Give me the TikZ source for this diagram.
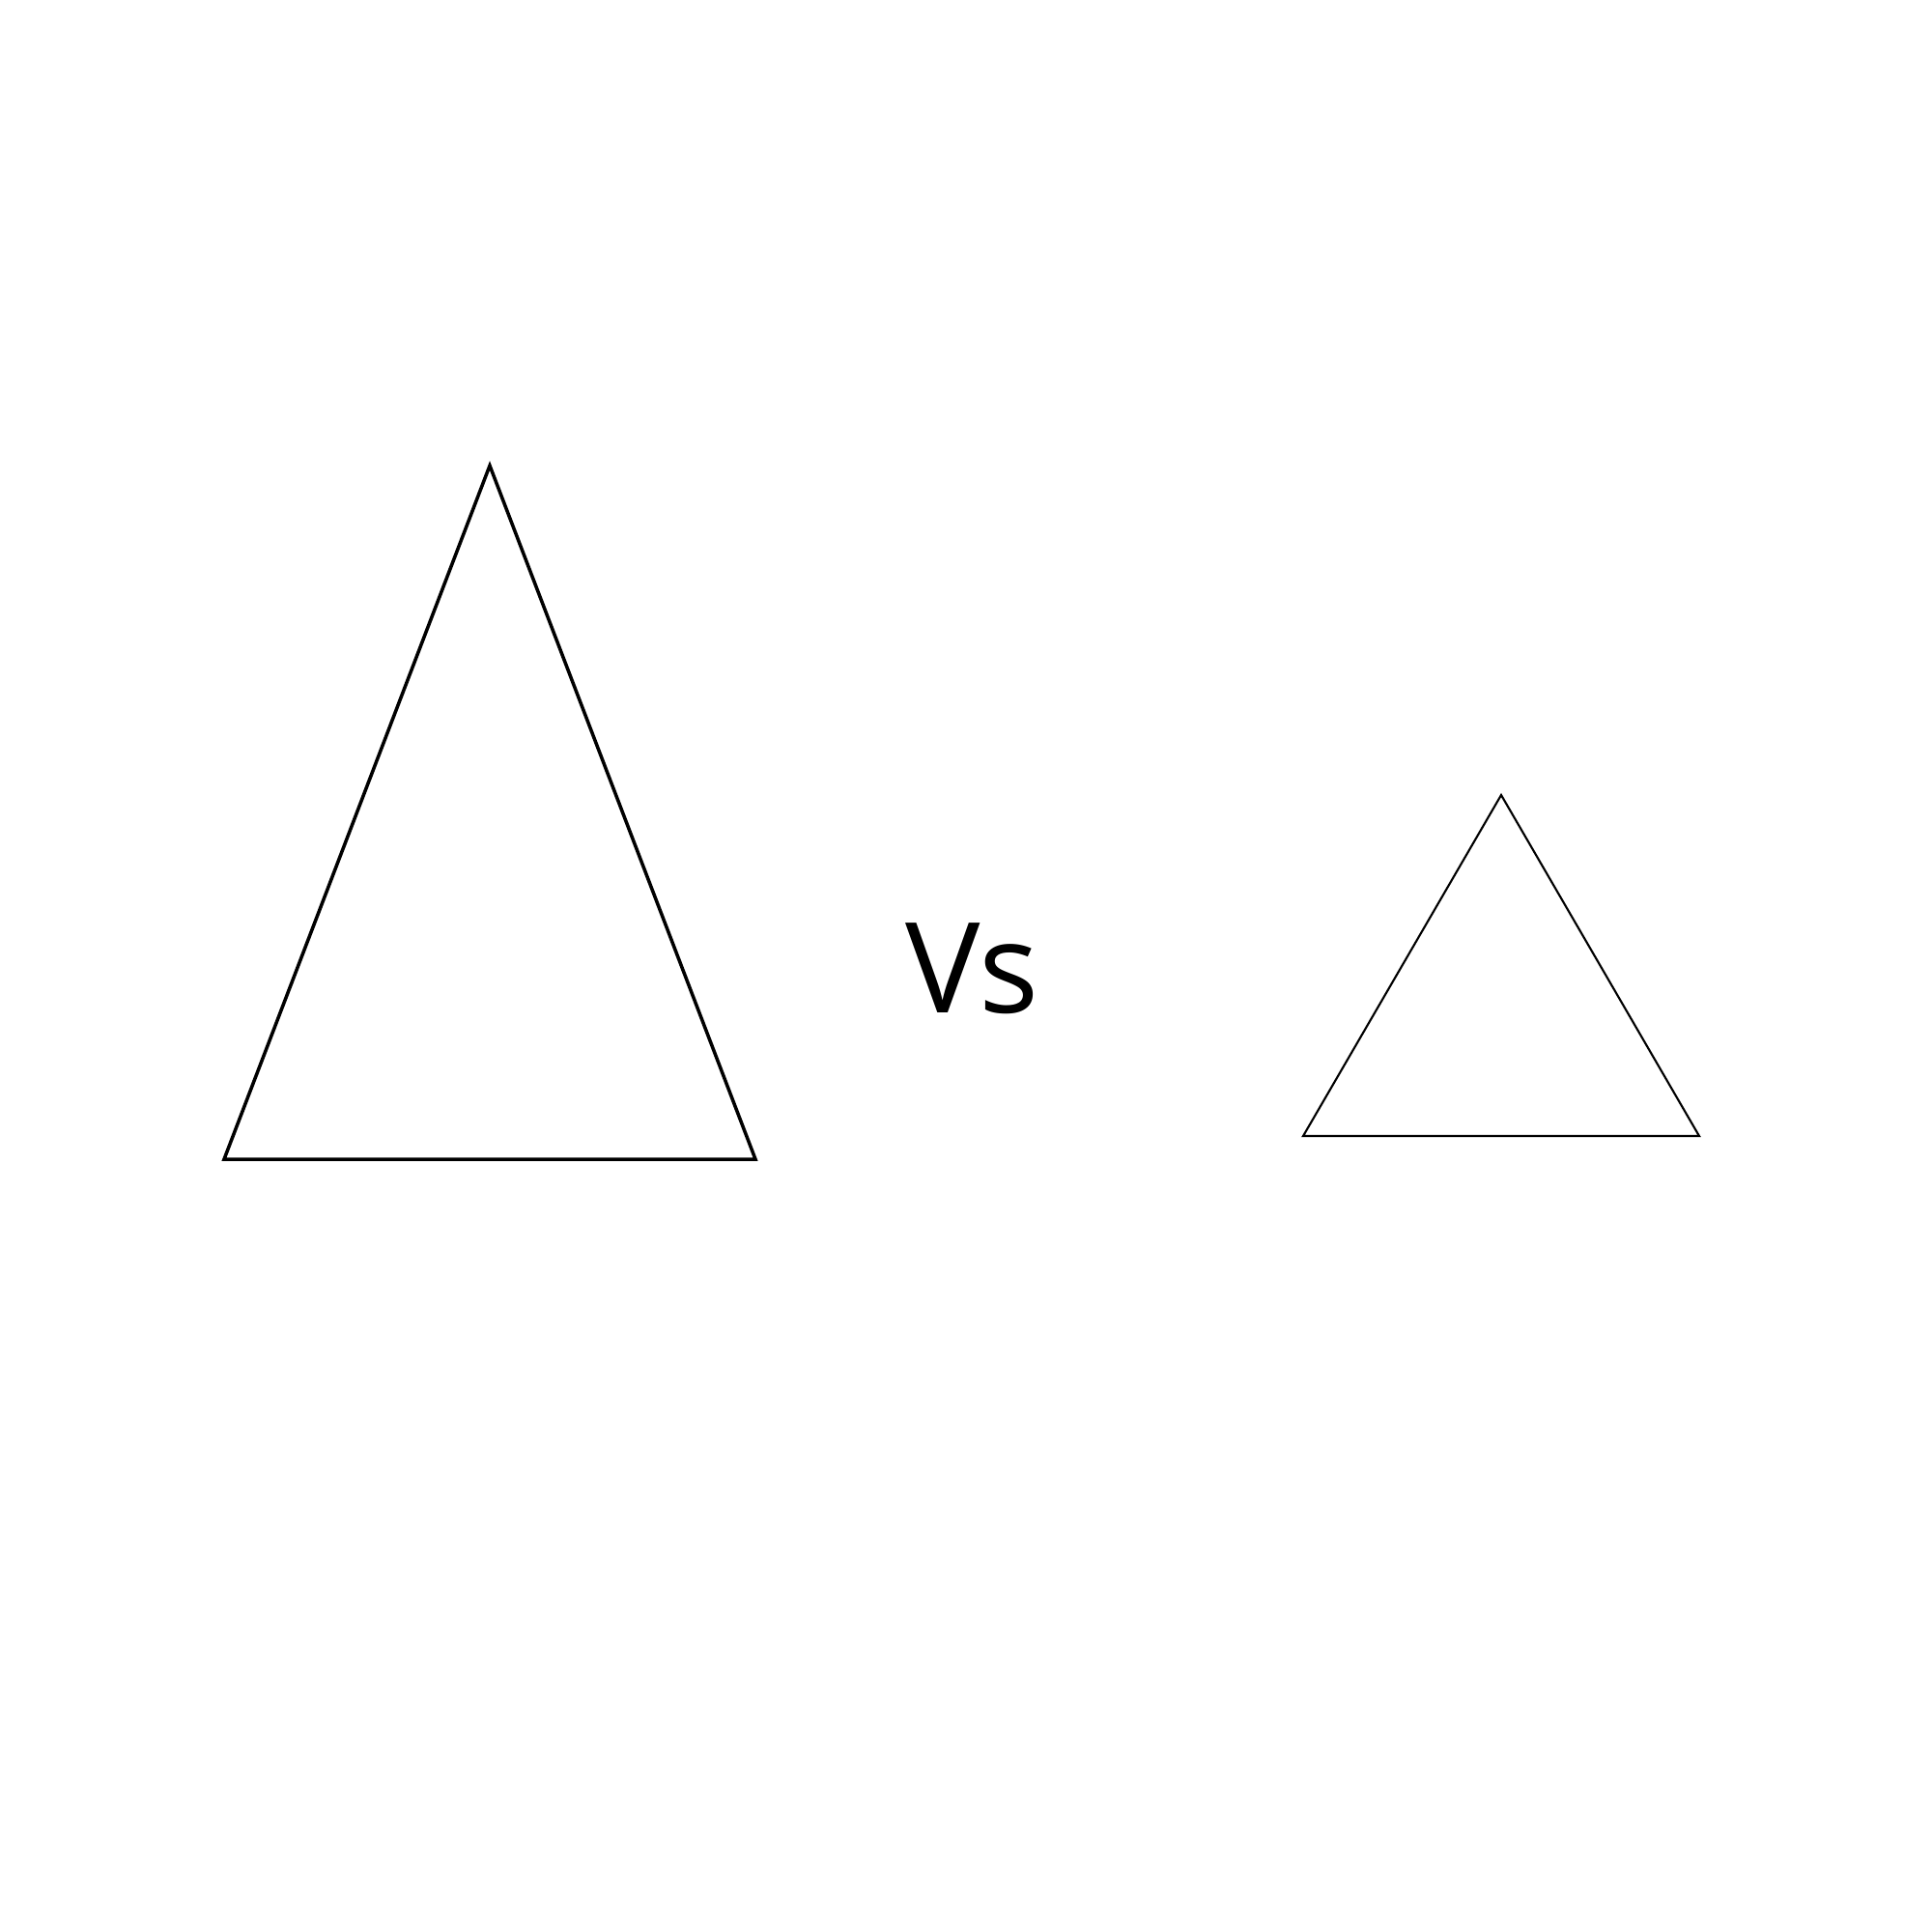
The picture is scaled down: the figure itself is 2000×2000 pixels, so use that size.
\documentclass[tikz,border=0pt]{standalone}
\usepackage{fontspec}
\setmainfont{Open Sans}
\begin{document}
\begin{tikzpicture}[x=0.01cm,y=-0.01cm,
  tri/.style={draw=black,line join=miter}]
\useasboundingbox[fill=white] (0,0) rectangle (2000,2000);
\coordinate (la) at (507,482);
\coordinate (ll) at (232,1200);
\coordinate (lr) at (782,1200);
\draw[tri,line width=1pt] (la) -- (ll) -- (lr) -- cycle;
\coordinate (ra) at (1554,823);
\coordinate (rl) at (1349,1176);
\coordinate (rr) at (1759,1176);
\draw[tri,line width=0.6pt] (ra) -- (rl) -- (rr) -- cycle;
\node[anchor=base west,inner sep=0pt,font=\fontsize{37}{44}\selectfont\addfontfeatures{Kerning=Off}] (vs) at (937,1048) {Vs};
\end{tikzpicture}
\end{document}
